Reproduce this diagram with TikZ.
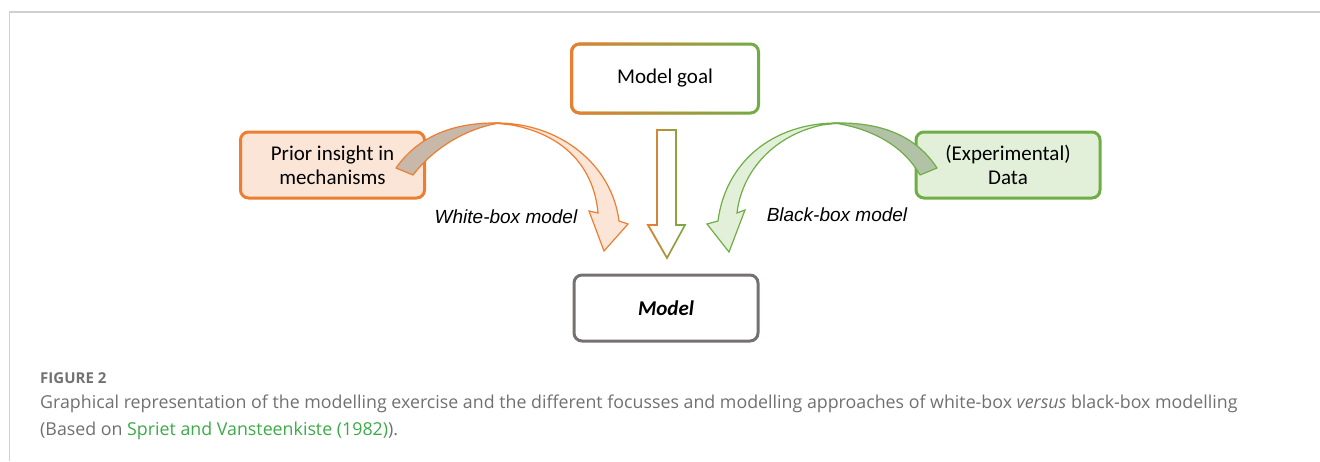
\documentclass[tikz,border=0pt]{standalone}
\usepackage{fontspec}
\setmainfont{Carlito}
\newfontfamily\labelfont{Liberation Sans}
\newfontfamily\capfont{Open Sans}
\usetikzlibrary{calc,fadings}

\definecolor{accOrange}{HTML}{ED7D31}
\definecolor{accPeach}{HTML}{FBE5D6}
\definecolor{accGreen}{HTML}{70AD47}
\definecolor{accMint}{HTML}{E2F0D9}
\definecolor{accGray}{HTML}{767171}
\definecolor{wbBack}{HTML}{C8B8AA}
\definecolor{bbBack}{HTML}{B2C2A6}
\definecolor{frameGray}{HTML}{D0D0D0}
\definecolor{capHead}{HTML}{727272}
\definecolor{capText}{HTML}{707070}
\definecolor{capLink}{HTML}{3DAA48}

\tikzset{
  box/.style={rectangle, rounded corners=8pt, minimum width=184pt,
    minimum height=66pt, line width=3pt, align=center,
    font=\fontsize{21}{24}\selectfont},
  arrowlabel/.style={font=\labelfont\itshape\fontsize{19}{22}\selectfont},
  caption/.style={anchor=west, inner sep=0pt, text=capText,
    font=\capfont\fontsize{17.8}{22}\selectfont},
}

\begin{document}
\begin{tikzpicture}[x=1pt, y=-1pt]
\useasboundingbox (0,0) rectangle (1320,461);

% page frame
\draw[frameGray, line width=2pt] (9,12) -- (1320,12);
\draw[frameGray, line width=1.2pt] (9.5,12) -- (9.5,461);

% boxes
\node[box] (goal) at (665,78.5) {Model goal};
\node[box, draw=accOrange, fill=accPeach] (prior) at (332.5,165)
  {Prior insight in\\mechanisms};
\node[box, draw=accGreen, fill=accMint] (data) at (1008,165)
  {(Experimental)\\Data};
\node[box, draw=accGray] (model) at (666,308) {\bfseries\itshape Model};

% border of the goal box, orange on the left turning green on the right
\draw[accGreen, line width=3pt, rounded corners=8pt]
  (goal.south west) rectangle (goal.north east);
\draw[accOrange, line width=3pt, rounded corners=8pt, path fading=east]
  (goal.south west) rectangle (goal.north east);

% straight arrow from goal to model
\draw[accGreen, line width=1.6pt, line join=miter]
  (657,130) -- (676,130) -- (676,225) -- (685,225) -- (667,258)
  -- (648,225) -- (657,225) -- cycle;
\draw[accOrange, line width=1.6pt, line join=miter, path fading=east]
  (657,130) -- (676,130) -- (676,225) -- (685,225) -- (667,258)
  -- (648,225) -- (657,225) -- cycle;

% white-box curved arrow: underside, then front face with head
\draw[accOrange, fill=wbBack, line width=1.2pt, line join=round]
  (396,168) .. controls (418,137) and (452,122) .. (500,123)
  .. controls (478,126) and (440,140) .. (413,175) -- cycle;
\draw[accOrange, fill=accPeach, line width=1.2pt, line join=miter]
  (494,123) .. controls (560,122) and (612,165) .. (619,221)
  -- (628,224) -- (604,251) -- (589,211) -- (598,213)
  .. controls (594,168) and (565,135) .. (512,125) -- cycle;

% black-box curved arrow: underside, then front face with head
\draw[accGreen, fill=bbBack, line width=1.2pt, line join=round]
  (937,168) .. controls (916,136) and (882,122) .. (834,123)
  .. controls (862,127) and (900,140) .. (920,175) -- cycle;
\draw[accGreen, fill=accMint, line width=1.2pt, line join=miter]
  (840,123) .. controls (770,122) and (725,165) .. (718,221)
  -- (707,224) -- (729,252) -- (745,210) -- (737,213)
  .. controls (742,170) and (775,135) .. (822,125) -- cycle;

% arrow labels
\node[arrowlabel] (wlab) at (506,217) {White-box model};
\node[arrowlabel] (blab) at (837,215) {Black-box model};

% caption
\node[caption, text=capHead, font=\capfont\bfseries\fontsize{15}{20}\selectfont]
  (fighead) at (40,378) {FIGURE 2};
\node[caption] (cap1) at (40,404) {Graphical representation of the modelling
  exercise and the different focusses and modelling approaches of white-box
  \textit{versus} black-box modelling};
\node[caption] (cap2) at (40,431) {(Based on \textcolor{capLink}{Spriet and
  Vansteenkiste (1982)}).};
\end{tikzpicture}
\end{document}
